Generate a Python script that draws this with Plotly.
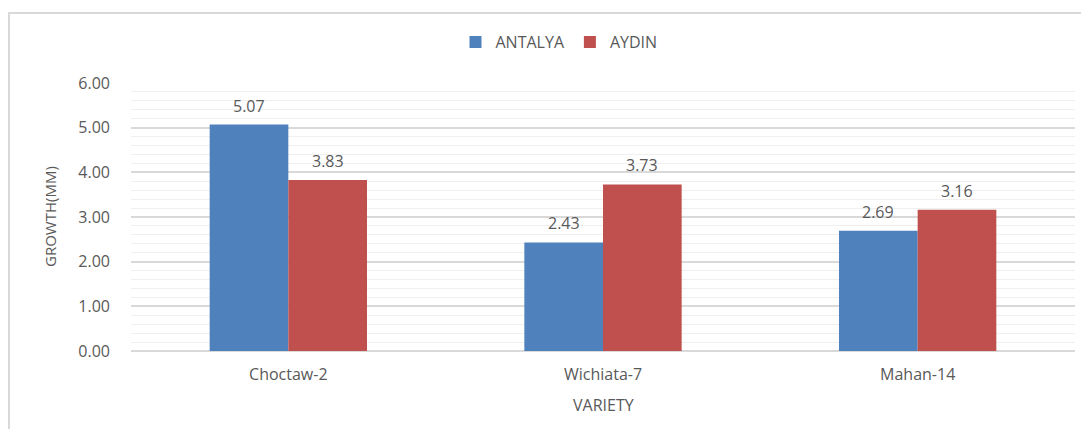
import plotly.graph_objects as go

categories = ["Choctaw-2", "Wichiata-7", "Mahan-14"]
antalya = [5.07, 2.43, 2.69]
aydin = [3.83, 3.73, 3.16]
series_names = ["ANTALYA", "AYDIN"]
y_tickvals = [0, 1, 2, 3, 4, 5, 6]

FONT = "Open Sans"
GRAY = "#595959"
W, H = 1081, 421
L, R, T, B = 123, 14, 75, 78
PW, PH = W - L - R, H - T - B


def px(xpix):
    return (xpix - L) / PW


def py(ypix):
    return 1 - (ypix - T) / PH


fig = go.Figure()
fig.add_trace(go.Bar(x=categories, y=antalya, name=series_names[0],
                     marker=dict(color="#4f81bd", line=dict(width=0))))
fig.add_trace(go.Bar(x=categories, y=aydin, name=series_names[1],
                     marker=dict(color="#c0504d", line=dict(width=0))))

annotations = []
bar_offsets = [-0.125, 0.125]
for s, vals in enumerate([antalya, aydin]):
    for i, v in enumerate(vals):
        annotations.append(dict(x=i + bar_offsets[s], y=v, xref="x", yref="y",
                                text=f"{v:.2f}", showarrow=False, yanchor="middle",
                                yshift=19, font=dict(family=FONT, size=16, color=GRAY)))

annotations += [
    dict(text="GROWTH(MM)", xref="paper", yref="paper",
         x=px(42), y=0.5, xanchor="center", yanchor="middle",
         textangle=-90, showarrow=False, font=dict(family=FONT, size=15, color=GRAY)),
    dict(text="VARIETY", xref="paper", yref="paper",
         x=0.5, y=py(397), xanchor="center", yanchor="middle",
         showarrow=False, font=dict(family=FONT, size=16, color=GRAY)),
]

fig.update_layout(
    width=W, height=H,
    margin=dict(l=L, r=R, t=T, b=B),
    paper_bgcolor="white", plot_bgcolor="white",
    barmode="group", bargap=0.5, bargroupgap=0,
    font=dict(family=FONT, size=16, color=GRAY),
    showlegend=True,
    legend=dict(orientation="h", x=px(551), xanchor="center",
                y=py(34), yanchor="middle",
                font=dict(family=FONT, size=16, color=GRAY),
                itemwidth=30, traceorder="normal", bgcolor="rgba(0,0,0,0)"),
    xaxis=dict(showgrid=False, showline=False, ticks="", zeroline=False,
               ticklabelstandoff=12,
               tickfont=dict(family=FONT, size=16, color=GRAY)),
    yaxis=dict(range=[0, 6], tickvals=y_tickvals, tickformat=".2f",
               showgrid=True, gridcolor="#d9d9d9", gridwidth=1.5,
               zeroline=True, zerolinecolor="#d9d9d9", zerolinewidth=1.5,
               showline=False, ticks="", ticklabelstandoff=20,
               tickfont=dict(family=FONT, size=16, color=GRAY),
               minor=dict(dtick=0.2, showgrid=True, gridcolor="#efefef", gridwidth=1)),
    annotations=annotations,
    shapes=[
        dict(type="line", xref="paper", yref="paper",
             x0=px(0), x1=px(W), y0=py(5), y1=py(5),
             line=dict(color="#d9d9d9", width=2)),
        dict(type="line", xref="paper", yref="paper",
             x0=px(1), x1=px(1), y0=py(5), y1=py(H),
             line=dict(color="#d9d9d9", width=2)),
    ],
)

fig.write_html("out.html")
